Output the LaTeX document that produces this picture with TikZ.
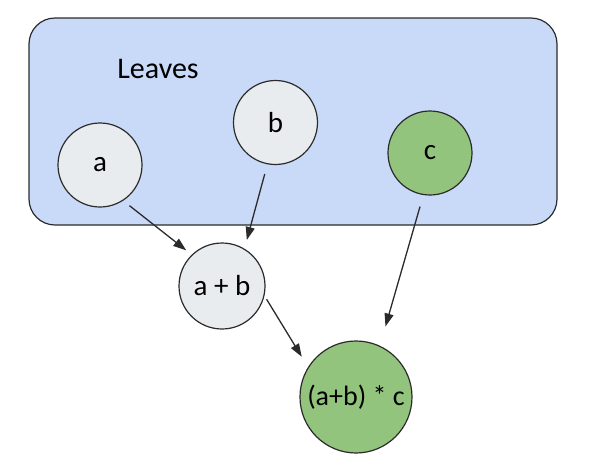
\documentclass[tikz,border=0pt]{standalone}
\usepackage{fontspec}
\setmainfont{Carlito}
\usepackage{tikz}
\usetikzlibrary{positioning, arrows.meta, calc}

\definecolor{leafblue}{HTML}{C9DAF8}
\definecolor{opgray}{HTML}{E9ECEE}
\definecolor{opgreen}{HTML}{93C47D}
\definecolor{edge}{HTML}{2B2B2B}

\begin{document}
\begin{tikzpicture}[
    x=1pt, y=1pt,
    var/.style={draw=edge, circle, line width=1.2pt, minimum size=84pt, inner sep=0pt,
                font=\fontsize{29}{33}\selectfont},
    arr/.style={-{Triangle[length=13pt, width=9pt]}, line width=1.3pt, draw=edge}
]
\useasboundingbox (0,0) rectangle (598,-464);

% group of leaves
\node[draw=edge, fill=leafblue, line width=1.2pt, rounded corners=26pt,
      minimum width=528pt, minimum height=207pt] (leaves) at (293,-121.5) {};
\node[font=\fontsize{30}{34}\selectfont] (leaveslbl) at (158,-69) {Leaves};

\node[var, fill=opgray] (a) at (100,-165) {a};
\node[var, fill=opgray] (b) at (275.5,-122.5) {b};
\node[var, fill=opgreen] (c) at (430,-153) {c};
\node[var, fill=opgray, minimum size=86pt] (ab) at (222,-286) {a + b};
\node[var, fill=opgreen, minimum size=112pt, font=\fontsize{28}{32}\selectfont] (abc) at (356,-397) {(a+b) * c};

\draw[arr, shorten <=8pt, shorten >=7pt] (a.-57) -- (ab.134);
\draw[arr, shorten <=10pt, shorten >=9pt] (b.-101) -- (ab.59);
\draw[arr, shorten <=12pt, shorten >=20pt] (c.-99) -- (abc.65);
\draw[arr, shorten <=4pt, shorten >=12pt] (ab.-13) -- (abc.148);

\end{tikzpicture}
\end{document}
